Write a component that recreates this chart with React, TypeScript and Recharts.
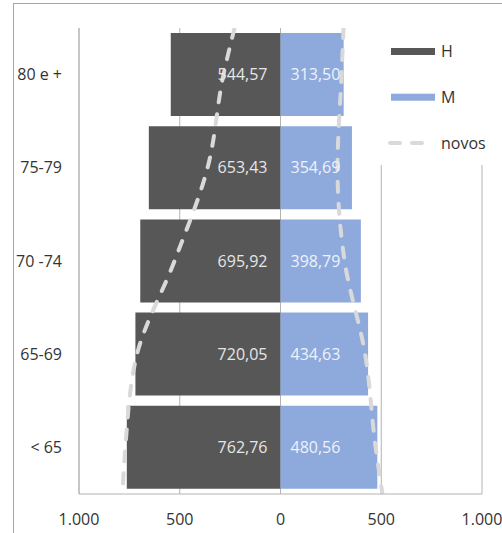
import {
  Bar,
  CartesianGrid,
  ComposedChart,
  LabelList,
  Legend,
  Line,
  XAxis,
  YAxis,
} from "recharts";

const categories = ["80 e +", "75-79", "70 -74", "65-69", "< 65"];
const homens = [544.57, 653.43, 695.92, 720.05, 762.76];
const mulheres = [313.5, 354.69, 398.79, 434.63, 480.56];

// "novos" curves: pos 0 = top of the plot, 5 = bottom, half steps = band centres
const novosPos = [0, 0.5, 1.5, 2.5, 3.5, 4.5, 5];
const novosH = [-228, -283, -362, -526, -712, -770, -784];
const novosM = [313, 303, 283, 318, 420, 472, 506];

const xTicks = [-1000, -500, 0, 500, 1000];

const H_COLOR = "#575757";
const M_COLOR = "#8eaadc";
const NOVOS_COLOR = "#d9d9d9";
const GRID = "#b3b3b3";
const TEXT = "#333333";
const FONT = "'Open Sans', sans-serif";

const legendItems = [
  { name: "H", kind: "rect", color: H_COLOR },
  { name: "M", kind: "rect", color: M_COLOR },
  { name: "novos", kind: "dash", color: NOVOS_COLOR },
];

const data = categories.map((cat, i) => ({ cat, h: -homens[i], m: mulheres[i] }));
const novosLeft = novosPos.map((pos, i) => ({ pos, v: novosH[i] }));
const novosRight = novosPos.map((pos, i) => ({ pos, v: novosM[i] }));

const fmtTick = (v: number) => {
  const a = Math.abs(v);
  return a >= 1000 ? `${Math.floor(a / 1000)}.${String(a % 1000).padStart(3, "0")}` : String(a);
};
const fmtVal = (v: number) => Math.abs(v).toFixed(2).replace(".", ",");

const HLabel = (props: any) => {
  const { x, y, width, height, value } = props;
  const right = Math.max(x, x + width);
  return (
    <text x={right - 13} y={y + height / 2} dy="0.35em" textAnchor="end" fill="#e6e6e6" fontSize={16} fontFamily={FONT}>
      {fmtVal(value)}
    </text>
  );
};

const MLabel = (props: any) => {
  const { x, y, width, height, value } = props;
  const left = Math.min(x, x + width);
  return (
    <text x={left + 10} y={y + height / 2} dy="0.35em" textAnchor="start" fill="#eef2fa" fontSize={16} fontFamily={FONT}>
      {fmtVal(value)}
    </text>
  );
};

function LegendBox() {
  return (
    <svg width={132} height={137} style={{ display: "block" }}>
      <rect width={132} height={137} fill="#ffffff" />
      {legendItems.map((it, i) => {
        const cy = 23.5 + i * 45.7;
        return (
          <g key={it.name}>
            {it.kind === "rect" ? (
              <rect x={21} y={cy - 3.5} width={44} height={7} fill={it.color} />
            ) : (
              <line x1={20} x2={64} y1={cy} y2={cy} stroke={it.color} strokeWidth={4} strokeDasharray="10 12" strokeLinecap="round" />
            )}
            <text x={71} y={cy} dy="0.35em" fontSize={16} fontFamily={FONT} fill={TEXT}>
              {it.name}
            </text>
          </g>
        );
      })}
    </svg>
  );
}

export default function App() {
  return (
    <div style={{ position: "absolute", left: 0, top: 0, width: 502, height: 533, overflow: "hidden", background: "#fff" }}>
      <div style={{ position: "absolute", left: 13, top: 3, width: 600, height: 600, border: "1px solid #a6a6a6" }} />
      <div style={{ position: "absolute", left: 0, top: 0 }}>
        <ComposedChart
          width={502}
          height={533}
          data={data}
          layout="vertical"
          stackOffset="sign"
          barCategoryGap={5}
          margin={{ top: 28, right: 20, bottom: 0, left: 0 }}
        >
          <CartesianGrid horizontal={false} stroke={GRID} />
          <XAxis
            type="number"
            domain={[-1000, 1000]}
            ticks={xTicks}
            tickFormatter={fmtTick}
            height={39}
            axisLine={{ stroke: GRID }}
            tickLine={false}
            tickSize={0}
            tickMargin={20}
            tick={{ fill: TEXT, fontSize: 16, fontFamily: FONT }}
          />
          <YAxis
            type="category"
            dataKey="cat"
            width={79}
            axisLine={{ stroke: GRID }}
            tickLine={false}
            tickSize={0}
            tickMargin={17}
            tick={{ fill: TEXT, fontSize: 16, fontFamily: FONT }}
          />
          <YAxis yAxisId="n" type="number" dataKey="pos" domain={[0, 5]} hide allowDataOverflow />
          <Bar dataKey="h" name="H" stackId="p" fill={H_COLOR} isAnimationActive={false}>
            <LabelList dataKey="h" content={HLabel} />
          </Bar>
          <Bar dataKey="m" name="M" stackId="p" fill={M_COLOR} isAnimationActive={false}>
            <LabelList dataKey="m" content={MLabel} />
          </Bar>
          <Line
            data={novosLeft}
            yAxisId="n"
            dataKey="v"
            name="novos"
            type="monotone"
            stroke={NOVOS_COLOR}
            strokeWidth={4}
            strokeDasharray="10 12"
            strokeLinecap="round"
            dot={false}
            activeDot={false}
            isAnimationActive={false}
          />
          <Line
            data={novosRight}
            yAxisId="n"
            dataKey="v"
            name="novos "
            type="monotone"
            stroke={NOVOS_COLOR}
            strokeWidth={4}
            strokeDasharray="10 12"
            strokeLinecap="round"
            dot={false}
            activeDot={false}
            isAnimationActive={false}
          />
          <Legend
            layout="vertical"
            align="center"
            verticalAlign="middle"
            content={() => <LegendBox />}
            wrapperStyle={{ left: 370, top: 28, width: 132, height: 137 }}
          />
        </ComposedChart>
      </div>
    </div>
  );
}
